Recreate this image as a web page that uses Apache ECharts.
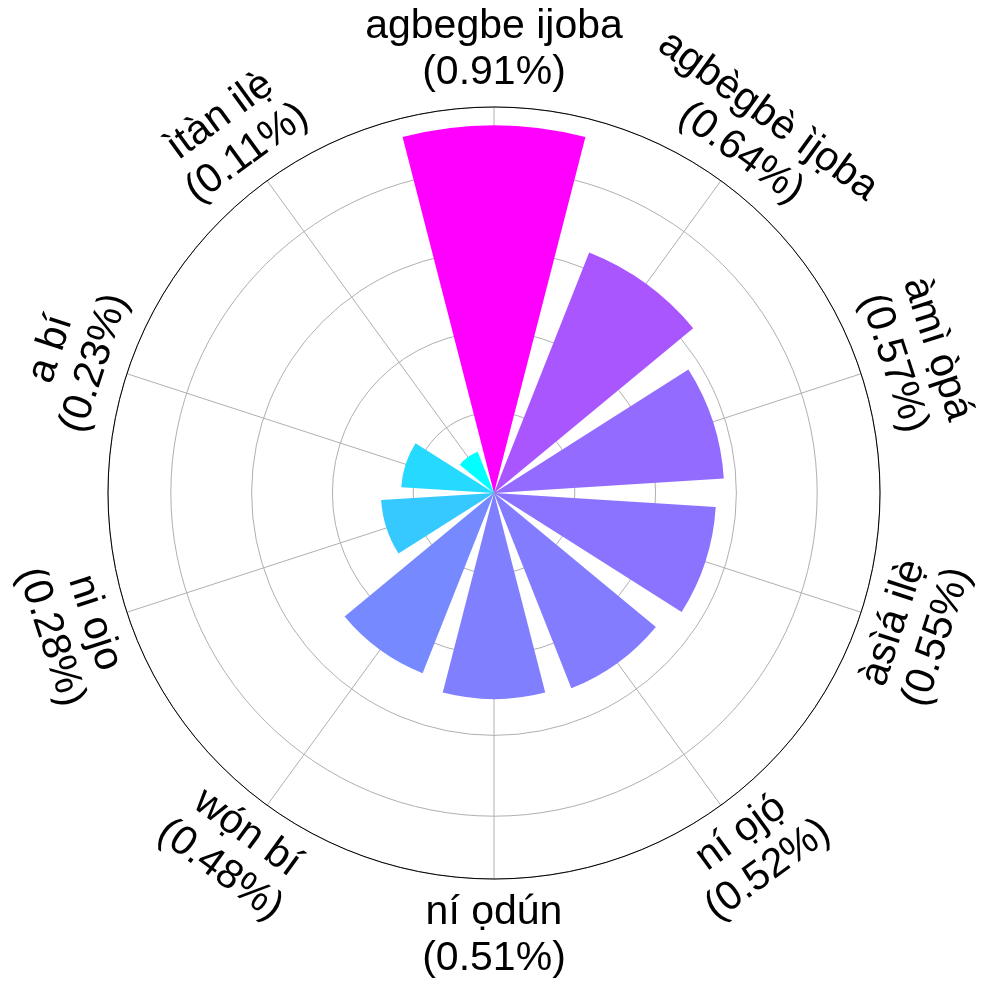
<!DOCTYPE html>
<html>
<head>
<meta charset="utf-8">
<script src="https://cdn.jsdelivr.net/npm/echarts@6/dist/echarts.min.js"></script>
<style>
  html, body { margin: 0; padding: 0; background: #ffffff; }
  #chart { width: 988px; height: 989px; }
</style>
</head>
<body>
<div id="chart"></div>
<script>
// ---- data ----
const categories = [
  'agbegbe ijoba',
  'agbègbè ìjọba',
  'àmì ọ̀pá',
  'àsìá ilẹ̀',
  'ní ọjọ́',
  'ní ọdún',
  'wọ́n bí',
  'ni ojo',
  'a bí',
  'ìtàn ilẹ̀'
];
const values = [0.91, 0.64, 0.57, 0.55, 0.52, 0.51, 0.48, 0.28, 0.23, 0.11];
const valueLabels = ['0.91%', '0.64%', '0.57%', '0.55%', '0.52%', '0.51%', '0.48%', '0.28%', '0.23%', '0.11%'];
const radiusMax = 0.9555;
const radiusTickInterval = 0.2;

// ---- colours: "cool" colormap normalised over the values ----
const vMin = Math.min.apply(null, values);
const vMax = Math.max.apply(null, values);
function cool(v) {
  const t = (v - vMin) / (vMax - vMin);
  const r = Math.round(255 * t), g = Math.round(255 * (1 - t));
  return 'rgb(' + r + ',' + g + ',255)';
}

const chart = echarts.init(document.getElementById('chart'), null, { renderer: 'canvas' });
const CENTER = [494, 493];
const RADIUS = 386;
const LABEL_PAD = 57;
const FONT = '"Liberation Sans", Arial, Helvetica, sans-serif';

const option = {
  animation: false,
  backgroundColor: '#ffffff',
  polar: [
    { center: CENTER, radius: RADIUS },
    { center: CENTER, radius: RADIUS }
  ],
  angleAxis: [
    {
      polarIndex: 0,
      type: 'category',
      data: categories,
      startAngle: 108,
      clockwise: true,
      axisLine: { show: false },
      axisTick: { show: false },
      axisLabel: { show: false },
      splitLine: { show: false }
    },
    {
      polarIndex: 1,
      type: 'category',
      data: categories,
      startAngle: 90,
      clockwise: true,
      z: 1,
      axisLine: { show: true, lineStyle: { color: '#000000', width: 1 } },
      axisTick: { show: false },
      axisLabel: { show: false },
      splitLine: { show: true, lineStyle: { color: '#b0b0b0', width: 1 } }
    }
  ],
  radiusAxis: [
    {
      polarIndex: 0,
      type: 'value',
      min: 0,
      max: radiusMax,
      interval: radiusTickInterval,
      axisLine: { show: false },
      axisTick: { show: false },
      axisLabel: { show: false },
      splitLine: { show: true, lineStyle: { color: '#b0b0b0', width: 1 } }
    },
    {
      polarIndex: 1,
      type: 'value',
      min: 0,
      max: radiusMax,
      show: false,
      axisLine: { show: false },
      axisTick: { show: false },
      axisLabel: { show: false },
      splitLine: { show: false }
    }
  ],
  series: [
    {
      type: 'bar',
      coordinateSystem: 'polar',
      polarIndex: 0,
      barCategoryGap: '20%',
      z: 2,
      data: values.map(function (v) {
        return { value: v, itemStyle: { color: cool(v) } };
      })
    },
    {
      type: 'custom',
      coordinateSystem: 'polar',
      polarIndex: 0,
      z: 5,
      silent: true,
      data: values.map(function (v, i) { return [v, categories[i]]; }),
      renderItem: function (params, api) {
        const cs = params.coordSys;
        const idx = params.dataIndex;
        const p = api.coord([radiusMax, api.value(1)]);
        const dx = p[0] - cs.cx, dy = p[1] - cs.cy;
        const len = Math.sqrt(dx * dx + dy * dy);
        const ux = dx / len, uy = dy / len;
        const x = p[0] + ux * LABEL_PAD, y = p[1] + uy * LABEL_PAD;
        // clockwise angle from top, in degrees
        let theta = Math.atan2(ux, -uy) * 180 / Math.PI;
        if (theta < 0) theta += 360;
        let rot = -theta;                       // counter-clockwise rotation in degrees
        if (theta > 90.5 && theta < 269.5) rot += 180;
        if (rot <= -180) rot += 360;
        return {
          type: 'text',
          x: x,
          y: y,
          rotation: rot * Math.PI / 180,
          style: {
            text: categories[idx] + '\n(' + valueLabels[idx] + ')',
            x: 0,
            y: 0,
            align: 'center',
            verticalAlign: 'middle',
            fill: '#000000',
            fontSize: 41,
            lineHeight: 46,
            fontFamily: FONT
          }
        };
      }
    }
  ]
};
chart.setOption(option);
</script>
</body>
</html>
